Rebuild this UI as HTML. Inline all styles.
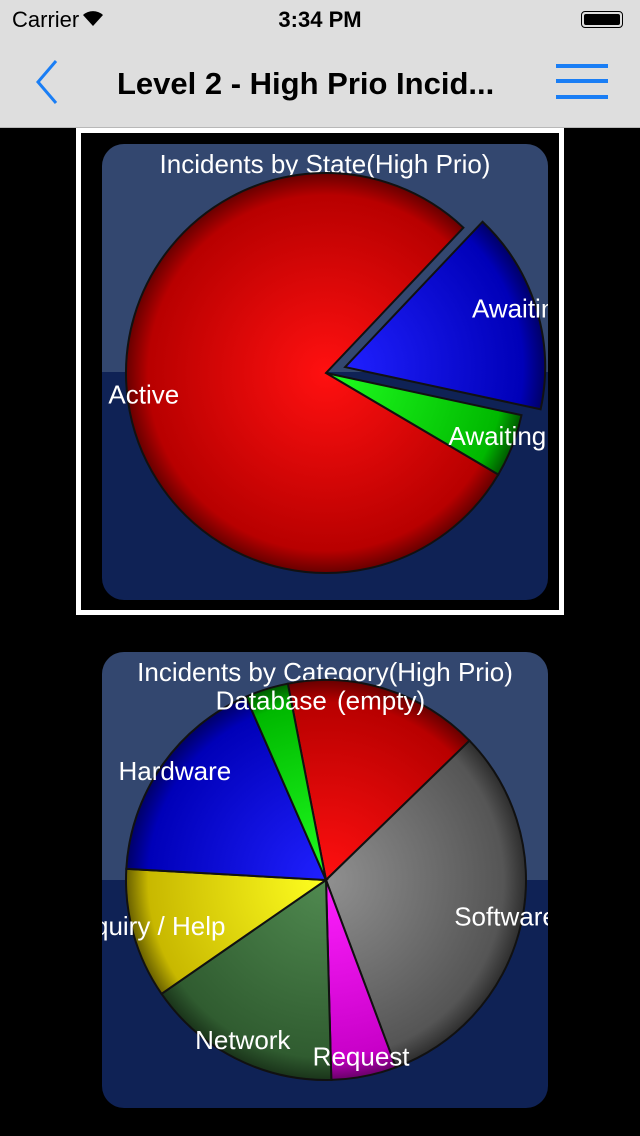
<!DOCTYPE html>
<html><head><meta charset="utf-8"><style>
body{margin:0;width:640px;height:1136px;background:#000;overflow:hidden;font-family:"Liberation Sans",sans-serif;position:relative}
#nav{position:absolute;left:0;top:0;width:640px;height:128px;background:#dedede;border-bottom:1px solid #b8b8b8;box-sizing:border-box}
.t{position:absolute;white-space:nowrap}
</style></head><body>
<div id="nav">
<div class="t" style="left:12px;top:7px;font-size:22px">Carrier</div>
<svg style="position:absolute;left:82px;top:9px" width="22" height="18"><path d="M11 17 L1 6 A15 15 0 0 1 21 6 Z" fill="#000"/></svg>
<div class="t" style="left:0;width:640px;text-align:center;top:7px;font-size:22px;font-weight:bold">3:34 PM</div>
<div style="position:absolute;left:581px;top:11px;width:42px;height:17px;border:1px solid #000;border-radius:4px;box-sizing:border-box;padding:2px"><div style="background:#000;width:100%;height:100%;border-radius:2px"></div></div>
<svg style="position:absolute;left:34px;top:58px" width="40" height="50"><path d="M22 3 L4 24 L22 45" stroke="#1a7ef5" stroke-width="3" fill="none"/></svg>
<div class="t" style="left:117px;top:66px;font-size:31px;font-weight:bold;color:#000">Level 2 - High Prio Incid...</div>
<svg style="position:absolute;left:556px;top:62px" width="54" height="40"><rect x="0" y="2" width="52" height="4" fill="#1a7ef5"/><rect x="0" y="17" width="52" height="4" fill="#1a7ef5"/><rect x="0" y="33" width="52" height="4" fill="#1a7ef5"/></svg>
</div>
<div style="position:absolute;left:76px;top:128px;width:488px;height:487px;border:5px solid #fff;box-sizing:border-box"></div>
<svg id="s" width="640" height="1136" style="position:absolute;left:0;top:0"></svg>
<script>
const stateCategories=["Awaiting","Awaiting","Active"];
const stateValues=[16,5,77];
const catCategories=["(empty)","Software","Request","Network","Inquiry / Help","Hardware","Database"];
const catValues=[9,18,3,9,6,10,2];
const NS="http://www.w3.org/2000/svg";
const svg=document.getElementById('s');
function mk(t,a,p){const e=document.createElementNS(NS,t);for(const k in a)e.setAttribute(k,a[k]);(p||svg).appendChild(e);return e;}
const defs=mk('defs',{});
const cols={red:["#ff1010","#b80000","#600000"],blue:["#2020ff","#0000b8","#000060"],green:["#20ff20","#00b800","#005000"],gray:["#909090","#555555","#2a2a2a"],mag:["#ff20ff","#c800c8","#600060"],dg:["#508a50","#305c30","#183018"],yel:["#ffff20","#c8b800","#605800"]};
let gi=0;
function grad(c,cx,cy){const id='g'+(gi++);const g=mk('radialGradient',{id:id,gradientUnits:'userSpaceOnUse',cx:cx,cy:cy,r:202},defs);
mk('stop',{offset:'0',"stop-color":cols[c][0]},g);mk('stop',{offset:'0.88',"stop-color":cols[c][1]},g);mk('stop',{offset:'1',"stop-color":cols[c][2]},g);return 'url(#'+id+')';}
function card(y,title,name){
 const id='c'+y;const cp=mk('clipPath',{id:id},defs);mk('rect',{x:102,y:y,width:446,height:456,rx:22},cp);
 const g=mk('g',{"clip-path":'url(#'+id+')'});
 
 mk('rect',{x:102,y:y,width:446,height:228,fill:'#33476f'},g);
 mk('rect',{x:102,y:y+228,width:446,height:228,fill:'#0f2255'},g);
 const t=mk('text',{x:325,y:y+29,"text-anchor":"middle",fill:"#fff","font-size":"26","font-family":"Liberation Sans, sans-serif"},g);t.textContent=title;
 
 return g;}
function pie(g,cx,cy,r,cats,vals,start,colorList,explode){
 const tot=vals.reduce((a,b)=>a+b,0);let a=start*Math.PI/180;
 vals.forEach((v,i)=>{const sw=v/tot*2*Math.PI;const m=a+sw/2;const off=explode[i]||0;
  const ox=cx+Math.cos(m)*off,oy=cy+Math.sin(m)*off;
  const x1=ox+r*Math.cos(a),y1=oy+r*Math.sin(a),x2=ox+r*Math.cos(a+sw),y2=oy+r*Math.sin(a+sw);
  const p=mk('path',{d:`M${ox},${oy}L${x1},${y1}A${r},${r} 0 ${sw>Math.PI?1:0} 1 ${x2},${y2}Z`,fill:grad(colorList[i],ox,oy),stroke:"#111", "stroke-width":2},g);
  
  
  a+=sw;});
 a=start*Math.PI/180;
 vals.forEach((v,i)=>{const sw=v/tot*2*Math.PI;const m=a+sw/2;const k=0.92*r+(explode[i]||0);
  const t=mk('text',{x:cx+Math.cos(m)*k,y:cy+Math.sin(m)*k+5,"text-anchor":"middle",fill:"#fff","font-size":"26","font-family":"Liberation Sans, sans-serif"},g);
  t.textContent=cats[i];
  
  
  a+=sw;});
}
const g1=card(144,"Incidents by State(High Prio)","state-pie-chart");
pie(g1,326,373,200,stateCategories,stateValues,-46.6,["blue","green","red"],[20,0,0]);
const g2=card(652,"Incidents by Category(High Prio)","category-pie-chart");
pie(g2,326,880,200,catCategories,catValues,-101,["red","gray","mag","dg","yel","blue","green"],[]);
</script>
</body></html>
